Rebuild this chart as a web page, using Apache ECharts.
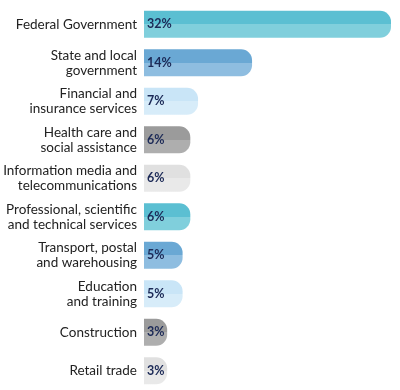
<!DOCTYPE html>
<html><head><meta charset="utf-8">
<script src="https://cdn.jsdelivr.net/npm/echarts@6/dist/echarts.min.js"></script>
<style>html,body{margin:0;padding:0;background:#fff}#c{width:400px;height:390px}</style>
</head><body><div id="c"></div>
<script>
const categories = [
  "Federal Government",
  "State and local\ngovernment",
  "Financial and\ninsurance services",
  "Health care and\nsocial assistance",
  "Information media and\ntelecommunications",
  "Professional, scientific\nand technical services",
  "Transport, postal\nand warehousing",
  "Education\nand training",
  "Construction",
  "Retail trade"
];
const values = [32, 14, 7, 6, 6, 6, 5, 5, 3, 3];
const topColors =    ["#5bbfd2","#6aa8d4","#c9e5f7","#9b9b9b","#e0e0e0","#5bbfd2","#6aa8d4","#c9e5f7","#9b9b9b","#e0e0e0"];
const bottomColors = ["#80cfdc","#8ebde0","#d7ecf9","#aeaeae","#e9e9e9","#80cfdc","#8ebde0","#d7ecf9","#aeaeae","#e9e9e9"];

const chart = echarts.init(document.getElementById('c'));
chart.setOption({
  animation: false,
  grid: {left: 144, right: 9, top: 5, height: 387},
  xAxis: {type: 'value', min: 0, max: 32, show: false},
  yAxis: {
    type: 'category', data: categories, inverse: true,
    axisLine: {show: false}, axisTick: {show: false},
    axisLabel: {fontFamily: 'Lato', fontSize: 13.5, color: '#222', lineHeight: 15, margin: 7, align: 'right'}
  },
  series: [{
    type: 'bar', barWidth: 27,
    data: values.map((v, i) => ({
      value: v,
      itemStyle: {
        borderRadius: [0, 11, 11, 0],
        color: {type: 'linear', x: 0, y: 0, x2: 0, y2: 1, colorStops: [
          {offset: 0, color: topColors[i]}, {offset: 0.5, color: topColors[i]},
          {offset: 0.5, color: bottomColors[i]}, {offset: 1, color: bottomColors[i]}
        ]}
      }
    })),
    label: {show: true, position: 'insideLeft', distance: 3, formatter: '{c}%',
      fontFamily: 'Lato', fontWeight: 'bold', fontSize: 12.5, color: '#1c2a57'}
  }]
});
</script></body></html>
